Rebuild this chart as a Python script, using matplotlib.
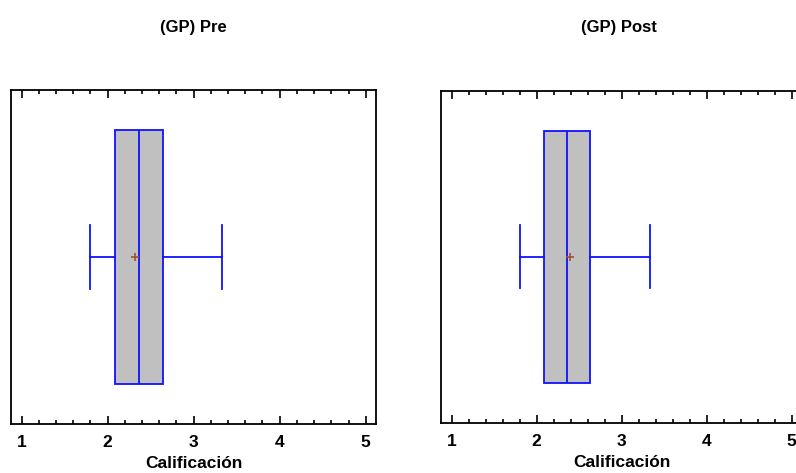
import matplotlib.pyplot as plt
from matplotlib.ticker import MultipleLocator

plt.rcParams['font.family'] = ['Liberation Sans', 'DejaVu Sans']
plt.rcParams['font.weight'] = 'bold'

titles = ['(GP) Pre', '(GP) Post']
xlabel = 'Calificación'
whislo = [1.80, 1.80]
q1 = [2.08, 2.08]
med = [2.36, 2.36]
q3 = [2.64, 2.63]
whishi = [3.33, 3.33]
mean = [2.32, 2.39]

fig = plt.figure(figsize=(7.96, 4.73), dpi=100)
ax_pos = [[0.0138, 0.1036, 0.4586, 0.7061],
          [0.5543, 0.1057, 0.4531, 0.7025]]
title_x = [0.2435, 0.778]

for i in range(2):
    ax = fig.add_axes(ax_pos[i])
    stats = [{'whislo': whislo[i], 'q1': q1[i], 'med': med[i], 'q3': q3[i],
              'whishi': whishi[i], 'mean': mean[i], 'fliers': []}]
    blue = '#1010ff'
    ax.bxp(stats, positions=[0.5], widths=0.76, capwidths=0.19,
           orientation='horizontal', showmeans=True, patch_artist=True,
           boxprops=dict(facecolor='#c0c0c0', edgecolor=blue, linewidth=1.3),
           medianprops=dict(color=blue, linewidth=1.3),
           whiskerprops=dict(color=blue, linewidth=1.3),
           capprops=dict(color=blue, linewidth=1.3),
           meanprops=dict(marker='+', markeredgecolor='#a0522d',
                          markersize=6, markeredgewidth=1.2))
    ax.set_xlim(0.876, 5.12)
    ax.set_ylim(0, 1)
    ax.set_yticks([])
    ax.xaxis.set_major_locator(MultipleLocator(1))
    ax.xaxis.set_minor_locator(MultipleLocator(0.2))
    ax.tick_params(axis='x', which='both', direction='in', top=True,
                   labelsize=12.5, width=1.2, pad=8)
    ax.tick_params(axis='x', which='major', length=6)
    ax.tick_params(axis='x', which='minor', length=3)
    for s in ax.spines.values():
        s.set_linewidth(1.3)
    ax.set_xlabel(xlabel, fontsize=12.5, fontweight='bold', labelpad=4)
    fig.text(title_x[i], 0.941, titles[i], ha='center', va='center',
             fontsize=12, fontweight='bold')

fig.savefig('out.png', dpi=100)
